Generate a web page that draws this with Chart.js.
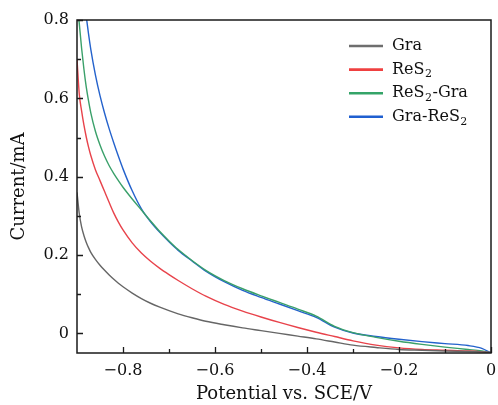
<!DOCTYPE html>
<html><head><meta charset="utf-8">
<script src="https://cdn.jsdelivr.net/npm/chart.js@4/dist/chart.umd.min.js"></script>
<style>html,body{margin:0;padding:0;background:#fff;}canvas{display:block;}</style>
</head><body>
<canvas id="c" width="498" height="405"></canvas>
<script>
// ---- data ----
const potential = [-0.9, -0.895, -0.89, -0.885, -0.88, -0.875, -0.87, -0.86, -0.85, -0.84, -0.83, -0.82, -0.81, -0.8,
  -0.78, -0.76, -0.74, -0.72, -0.7, -0.68, -0.65, -0.62, -0.58, -0.54, -0.5, -0.46, -0.42, -0.38, -0.34, -0.3,
  -0.25, -0.2, -0.15, -0.1, -0.05, -0.02, 0];
const graCurrent = [0.36, 0.305, 0.272, 0.25, 0.233, 0.219, 0.207, 0.189, 0.174, 0.161, 0.149, 0.138, 0.128, 0.119,
  0.103, 0.089, 0.077, 0.067, 0.058, 0.05, 0.04, 0.031, 0.022, 0.014, 0.007, 0.0, -0.007, -0.014, -0.022, -0.030,
  -0.036, -0.041, -0.043, -0.045, -0.046, -0.047, -0.048];
const res2Current = [0.70, 0.61, 0.568, 0.532, 0.502, 0.476, 0.454, 0.418, 0.39, 0.362, 0.334, 0.307, 0.284, 0.264,
  0.231, 0.205, 0.184, 0.166, 0.15, 0.135, 0.114, 0.095, 0.074, 0.057, 0.042, 0.028, 0.015, 0.003, -0.008, -0.019,
  -0.03, -0.037, -0.041, -0.043, -0.045, -0.047, -0.049];
const res2GraCurrent = [0.86, 0.79, 0.728, 0.675, 0.63, 0.594, 0.563, 0.516, 0.481, 0.452, 0.428, 0.408, 0.39, 0.373,
  0.343, 0.315, 0.287, 0.26, 0.236, 0.214, 0.186, 0.161, 0.135, 0.114, 0.096, 0.079, 0.062, 0.044, 0.018, 0.002,
  -0.01, -0.02, -0.028, -0.035, -0.041, -0.045, -0.05];
const graRes2Current = [1.0, 0.945, 0.895, 0.85, 0.81, 0.765, 0.725, 0.66, 0.607, 0.562, 0.522, 0.486, 0.452, 0.42,
  0.364, 0.318, 0.285, 0.258, 0.234, 0.212, 0.185, 0.159, 0.132, 0.11, 0.092, 0.075, 0.058, 0.041, 0.016, 0.001,
  -0.008, -0.015, -0.021, -0.026, -0.031, -0.038, -0.05];
const seriesLabels = ['Gra', 'ReS\u2082', 'ReS\u2082-Gra', 'Gra-ReS\u2082'];
const xTickValues = [-0.8, -0.6, -0.4, -0.2, 0];
const xMinorTicks = [-0.7, -0.5, -0.3, -0.1];
const yTickValues = [0, 0.2, 0.4, 0.6, 0.8];
const yMinorTicks = [0.1, 0.3, 0.5, 0.7];
const xTitle = 'Potential vs. SCE/V';
const yTitle = 'Current/mA';

// ---- styling ----
const SERIF = "'DejaVu Serif', serif";
const lineColors = ['#666666', '#e8434b', '#3aa06a', '#2462cc'];
const legendColors = ['#6e6e6e', '#ef4040', '#34a468', '#1f5fd0'];

function toPoints(ys) { return potential.map((p, i) => ({ x: p, y: ys[i] })); }
const seriesValues = [graCurrent, res2Current, res2GraCurrent, graRes2Current];

const frameAndTicks = {
  id: 'frameAndTicks',
  afterDatasetsDraw(chart) {
    const { ctx, chartArea: a, scales: { x, y } } = chart;
    ctx.save();
    ctx.strokeStyle = '#1a1a1a';
    ctx.lineWidth = 1.5;
    ctx.strokeRect(a.left, a.top, a.right - a.left, a.bottom - a.top);
    ctx.beginPath();
    xTickValues.forEach(v => { const p = Math.round(x.getPixelForValue(v)) + 0.5; ctx.moveTo(p, a.bottom); ctx.lineTo(p, a.bottom - 6); });
    xMinorTicks.forEach(v => { const p = Math.round(x.getPixelForValue(v)) + 0.5; ctx.moveTo(p, a.bottom); ctx.lineTo(p, a.bottom - 4); });
    yTickValues.forEach(v => { const p = Math.round(y.getPixelForValue(v)) + 0.5; ctx.moveTo(a.left, p); ctx.lineTo(a.left + 6, p); });
    yMinorTicks.forEach(v => { const p = Math.round(y.getPixelForValue(v)) + 0.5; ctx.moveTo(a.left, p); ctx.lineTo(a.left + 4, p); });
    ctx.lineWidth = 1.3;
    ctx.stroke();
    ctx.restore();
  }
};

const innerLegend = {
  id: 'innerLegend',
  afterDraw(chart) {
    const { ctx, chartArea: a } = chart;
    ctx.save();
    const x0 = a.right - 142, x1 = a.right - 108, tx = a.right - 99;
    chart.data.datasets.forEach((ds, i) => {
      const yy = a.top + 26 + i * 23.6;
      ctx.strokeStyle = legendColors[i];
      ctx.lineWidth = 2.6;
      ctx.beginPath(); ctx.moveTo(x0, yy); ctx.lineTo(x1, yy); ctx.stroke();
      ctx.fillStyle = '#111';
      ctx.textBaseline = 'middle';
      ctx.textAlign = 'left';
      let cx = tx;
      const parts = ds.label.split('\u2082');
      parts.forEach((part, k) => {
        ctx.font = '16px ' + SERIF;
        ctx.fillText(part, cx, yy);
        cx += ctx.measureText(part).width;
        if (k < parts.length - 1) {
          ctx.font = '11px ' + SERIF;
          ctx.fillText('2', cx + 0.5, yy + 5);
          cx += ctx.measureText('2').width + 1;
        }
      });
    });
    ctx.restore();
  }
};

new Chart(document.getElementById('c'), {
  type: 'line',
  data: {
    datasets: seriesLabels.map((label, i) => ({
      label,
      data: toPoints(seriesValues[i]),
      borderColor: lineColors[i],
      backgroundColor: lineColors[i],
      borderWidth: 1.4,
      pointRadius: 0,
      fill: false,
      cubicInterpolationMode: 'monotone',
      clip: 0
    }))
  },
  options: {
    responsive: false,
    animation: false,
    layout: { padding: { left: 0, right: 7, top: 20, bottom: 0 } },
    plugins: { legend: { display: false }, tooltip: { enabled: false } },
    scales: {
      x: {
        type: 'linear', min: -0.9, max: 0,
        afterBuildTicks: s => { s.ticks = xTickValues.map(v => ({ value: v })); },
        afterFit: s => { s.height = 52; s.paddingLeft = 0; s.paddingRight = 0; },
        grid: { display: false, drawTicks: false },
        border: { display: false },
        ticks: {
          color: '#111', padding: 8, maxRotation: 0, autoSkip: false,
          font: { family: SERIF, size: 16 },
          callback: v => Math.abs(v) < 1e-9 ? '0' : '\u2212' + Math.abs(v).toFixed(1)
        },
        title: { display: true, text: xTitle, color: '#111', font: { family: SERIF, size: 18 }, padding: { top: 0, bottom: 0 } }
      },
      y: {
        type: 'linear', min: -0.05, max: 0.8,
        afterBuildTicks: s => { s.ticks = yTickValues.map(v => ({ value: v })); },
        afterFit: s => { s.width = 77; s.paddingTop = 0; s.paddingBottom = 0; },
        grid: { display: false, drawTicks: false },
        border: { display: false },
        ticks: {
          color: '#111', padding: 8, autoSkip: false,
          font: { family: SERIF, size: 16 },
          callback: v => Math.abs(v) < 1e-9 ? '0' : v.toFixed(1)
        },
        title: { display: true, text: yTitle, color: '#111', font: { family: SERIF, size: 18 }, padding: { top: 9, bottom: 0 } }
      }
    }
  },
  plugins: [frameAndTicks, innerLegend]
});
</script>
</body></html>
